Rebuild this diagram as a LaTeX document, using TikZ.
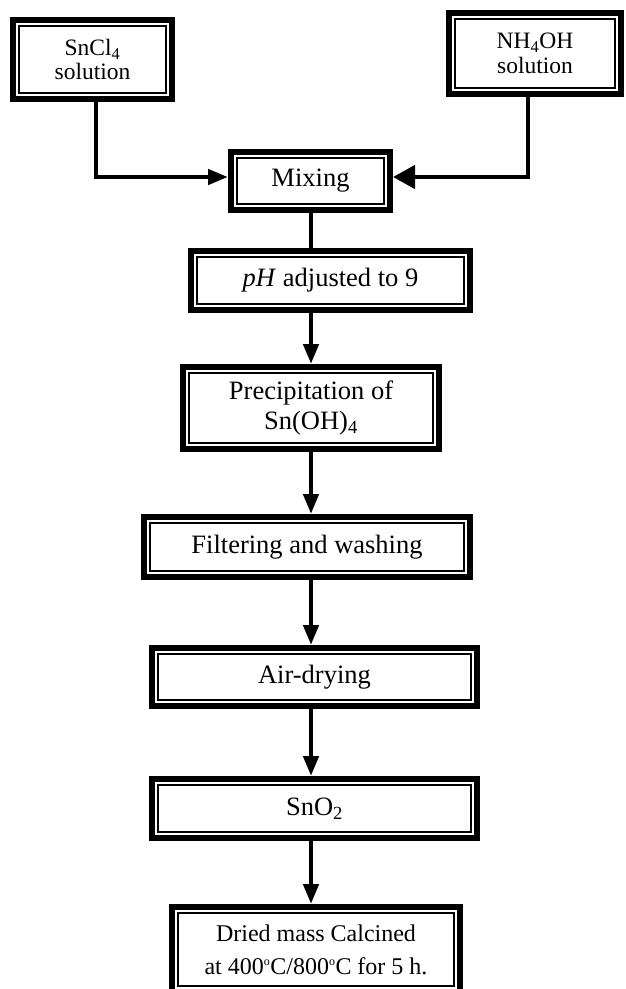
\documentclass[tikz,border=0pt]{standalone}
\usepackage{fontspec}
\setmainfont{Liberation Serif}
\usetikzlibrary{arrows.meta}
\tikzset{
  box/.style={draw, line width=6pt, fill=white, inner sep=0pt, align=center,
    path picture={\draw[line width=1.6pt]
      ([shift={(6.2pt,-6.2pt)}]path picture bounding box.north west) rectangle
      ([shift={(-6.2pt,6.2pt)}]path picture bounding box.south east);}},
  big/.style={font=\fontsize{26.5}{30}\selectfont},
  small/.style={font=\fontsize{23.5}{24.5}\selectfont},
  fin/.style={font=\fontsize{24}{33}\selectfont},
  conn/.style={line width=4.5pt},
  arr/.style={line width=4.5pt, -{Triangle[length=20pt,width=15pt]}},
  arrbig/.style={line width=4.5pt, -{Triangle[length=22pt,width=23pt]}},
}
\begin{document}
\begin{tikzpicture}[x=1pt,y=-1pt]
\useasboundingbox (0,0) rectangle (626,989);
\node[box,small,minimum width=159pt,minimum height=79pt] (snc) at (92.5,59.5) {SnCl\textsubscript{4}\\solution};
\node[box,small,minimum width=172pt,minimum height=81pt] (nh) at (535,53.5) {NH\textsubscript{4}OH\\solution};
\node[box,big,minimum width=159pt,minimum height=58pt] (mix) at (310.5,181) {Mixing};
\node[box,big,minimum width=279pt,minimum height=59pt] (ph) at (330.5,280.5) {\textit{pH} adjusted to 9};
\node[box,big,minimum width=256pt,minimum height=82pt] (prec) at (311,408) {Precipitation of\\Sn(OH)\textsubscript{4}};
\node[box,big,minimum width=326pt,minimum height=60pt] (filt) at (307,547) {Filtering and washing};
\node[box,big,minimum width=325pt,minimum height=58pt] (air) at (314.5,677) {Air-drying};
\node[box,big,minimum width=325pt,minimum height=59pt] (sno) at (314.5,808.5) {SnO\textsubscript{2}};
\node[box,fin,minimum width=288pt,minimum height=85pt] (fin) at (316,949.5) {Dried mass Calcined\\at 400\textsuperscript{\fontsize{12}{12}\selectfont o}C/800\textsuperscript{\fontsize{12}{12}\selectfont o}C for 5 h.};
\coordinate (axis) at (311,0);
\coordinate (lx) at (96,0);
\coordinate (rx) at (528,0);
\draw[arr] (snc.south -| lx) |- ([yshift=4pt]mix.west);
\draw[arrbig] (nh.south -| rx) |- ([yshift=4pt]mix.east);
\draw[conn] (mix.south -| axis) -- (ph.north -| axis);
\draw[arr] (ph.south -| axis) -- (prec.north -| axis);
\draw[arr] (prec.south -| axis) -- (filt.north -| axis);
\draw[arr] (filt.south -| axis) -- (air.north -| axis);
\draw[arr] (air.south -| axis) -- (sno.north -| axis);
\draw[arr] (sno.south -| axis) -- (fin.north -| axis);
\end{tikzpicture}
\end{document}
